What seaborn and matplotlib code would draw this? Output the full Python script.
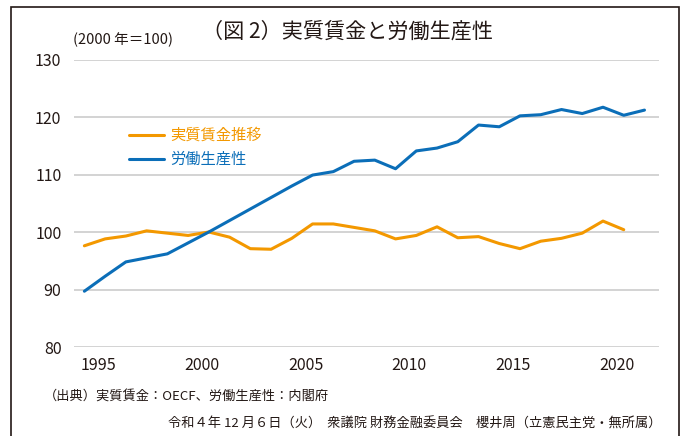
import numpy as np
import pandas as pd
import seaborn as sns
import matplotlib.pyplot as plt
import matplotlib.transforms as mtransforms
from matplotlib.patches import Rectangle
from matplotlib.lines import Line2D

# 実質賃金 (OECD) と 労働生産性 (内閣府), 2000年=100
wage_years = list(range(1994, 2021))
wage = [97.6, 98.8, 99.3, 100.2, 99.8, 99.4, 100.0, 99.1, 97.1, 97.0,
        98.9, 101.4, 101.4, 100.8, 100.2, 98.8, 99.4, 100.9, 99.0, 99.2,
        98.0, 97.1, 98.4, 98.9, 99.8, 101.9, 100.4]
prod_years = list(range(1994, 2022))
prod = [89.7, 92.3, 94.8, 95.5, 96.2, 98.1, 100.0, 102.0, 104.0, 106.0,
        108.0, 109.9, 110.5, 112.3, 112.5, 111.0, 114.1, 114.6, 115.7, 118.6,
        118.3, 120.2, 120.4, 121.3, 120.6, 121.7, 120.3, 121.2]

labels = ['実質賃金推移', '労働生産性']
colors = ['#F39800', '#0B6EB8']
xticks = [1995, 2000, 2005, 2010, 2015, 2020]
yticks = [80, 90, 100, 110, 120, 130]

df = pd.concat([
    pd.DataFrame({'year': wage_years, 'value': wage, 'series': labels[0]}),
    pd.DataFrame({'year': prod_years, 'value': prod, 'series': labels[1]}),
])

sns.set_theme(style='white')
plt.rcParams['font.family'] = ['Noto Sans CJK JP', 'DejaVu Sans']

fig = plt.figure(figsize=(6.86, 4.36), dpi=100)
ax = fig.add_axes([74 / 686, 1 - 347 / 436, 585 / 686, 287.5 / 436])

sns.lineplot(data=df, x='year', y='value', hue='series', hue_order=labels,
             palette=colors, linewidth=2.2, ax=ax, legend=False)

ax.set_xlim(1993.5, 2021.7)
ax.set_ylim(80, 130)
ax.set_xticks(xticks)
ax.set_yticks(yticks)
ax.yaxis.grid(True, color='#d3d3d3', linewidth=1.4)
ax.set_axisbelow(True)
for s in ax.spines.values():
    s.set_visible(False)
ax.set_xlabel('')
ax.set_ylabel('')
ax.tick_params(axis='both', length=0, labelsize=11.5, colors='#231815')
ax.tick_params(axis='y', pad=9)
ax.tick_params(axis='x', pad=7)
# labels sit a bit left of the data years in the original
shift = mtransforms.ScaledTranslation(-5 / 72, 0, fig.dpi_scale_trans)
for lab in ax.get_xticklabels():
    lab.set_transform(lab.get_transform() + shift)

handles = [Line2D([], [], color=c, linewidth=2.2) for c in colors]
ax.legend(handles, labels, loc='upper left', bbox_to_anchor=(0.094, 0.765),
          frameon=False, fontsize=11, labelcolor='linecolor',
          handlelength=2.3, handletextpad=0.4, labelspacing=0.45,
          borderpad=0, borderaxespad=0)

fig.text(0.5066, 1 - 32 / 436, '（図 2）実質賃金と労働生産性', ha='center', va='center',
         fontsize=15.2, color='#231815')
fig.text(73 / 686, 1 - 40 / 436, '(2000 年＝100)', ha='left', va='center',
         fontsize=10.5, color='#231815')
fig.text(44 / 686, 1 - 397 / 436, '（出典）実質賃金：OECF、労働生産性：内閣府',
         ha='left', va='center', fontsize=9.5, color='#231815')
fig.text(662 / 686, 1 - 424 / 436,
         '令和４年 12 月６日（火）  衆議院 財務金融委員会　櫻井周（立憲民主党・無所属）',
         ha='right', va='center', fontsize=9.5, color='#231815')

fig.patches.append(Rectangle((11 / 686, -0.1), 668 / 686, 1.1 - 7 / 436,
                             transform=fig.transFigure, fill=False,
                             edgecolor='#231815', linewidth=1.2))

fig.savefig('out.png', dpi=100)
